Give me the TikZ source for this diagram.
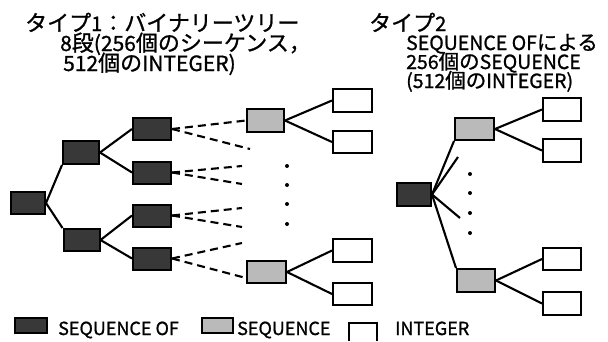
\documentclass[tikz,border=0pt]{standalone}
\usepackage{fontspec}
\newfontfamily\cjk{Noto Sans CJK JP}[FakeBold=1]
\newcommand\jtext[1]{{\fontsize{22}{22}\selectfont #1}}
\newcommand\jsmall[1]{{\fontsize{20.5}{20}\selectfont #1}}
\newcommand\tblock[3]{\parbox[t]{#1}{\raggedright\parindent=0pt\lineskiplimit=-100pt\lineskip=0pt\baselineskip=#2 #3}}
\usetikzlibrary{calc}
\tikzset{
 box/.style={draw, line width=2pt, rectangle, inner sep=0pt, minimum width=38pt, minimum height=22pt},
 dark/.style={box, fill=black!78},
 light/.style={box, fill=black!27},
 int/.style={box, fill=white},
 conn/.style={line width=2.1pt},
 dconn/.style={line width=2.1pt, dash pattern=on 8pt off 5pt},
 txt/.style={anchor=base west, inner sep=0pt, font=\cjk\fontsize{20}{20}\selectfont},
 legtxt/.style={txt, font=\cjk\fontsize{18}{18}\selectfont},
 dotmark/.style={circle, fill=black, inner sep=0pt, minimum size=4pt}
}
\begin{document}
\begin{tikzpicture}[x=1pt,y=-1pt]
\useasboundingbox (0,0) rectangle (608,341);
% ---------- titles
\node[txt] (t1a) at (25,31) {\jtext{タイプ}1\jtext{：バイナリーツリー}};
\node[txt, font=\cjk\fontsize{21}{21}\selectfont] (t1b) at (60,51) {\tblock{260pt}{20pt}{8\jtext{段}(256\jtext{個のシーケンス，}\\
\hspace*{3pt}512\jtext{個の}INTEGER)}};
\node[txt] (t2a) at (369,31) {\jtext{タイプ}2};
\node[txt, font=\cjk\fontsize{19.5}{19.5}\selectfont] (t2b) at (406,50) {\tblock{200pt}{19pt}{SEQUENCE OF\jsmall{による}\\
256\jsmall{個の}SEQUENCE\\
(512\jsmall{個の}INTEGER)}};
% ---------- type 1 tree
\node[dark, minimum width=34pt] (r) at (28,203) {};
\node[dark, minimum width=36pt, minimum height=23pt] (a1) at (81,152.5) {};
\node[dark, minimum width=36pt] (a2) at (81.5,240) {};
\node[dark] (b1) at (152,129) {};
\node[dark] (b2) at (152,172.5) {};
\node[dark] (b3) at (152,215.5) {};
\node[dark] (b4) at (152,258.5) {};
\node[light, minimum width=37pt, minimum height=23pt] (s1) at (265.5,120.5) {};
\node[light, minimum width=39pt] (s2) at (266.5,272) {};
\node[int, minimum width=39pt, minimum height=23pt] (i1) at (352.5,100.5) {};
\node[int, minimum width=39pt] (i2) at (352.5,142) {};
\node[int, minimum width=39pt, minimum height=23pt] (i3) at (352.5,250.5) {};
\node[int, minimum width=39pt] (i4) at (352.5,294) {};
\draw[conn] (r.east) -- (a1.south west);
\draw[conn] (r.east) -- (a2.north west);
\draw[conn] (a1.east) -- (b1.west);
\draw[conn] (a1.east) -- (b2.west);
\draw[conn] (a2.east) -- (b3.west);
\draw[conn] (a2.east) -- (b4.west);
\coordinate (e1) at (250,149);
\coordinate (e2) at (242,166);
\coordinate (e3) at (242,184);
\coordinate (e4) at (242,208);
\coordinate (e5) at (242,227);
\coordinate (e6) at (242,243);
\draw[dconn] (b1.east) -- (s1.west);
\draw[dconn] (b1.east) -- (e1);
\draw[dconn] (b2.east) -- (e2);
\draw[dconn] (b2.east) -- (e3);
\draw[dconn] (b3.east) -- (e4);
\draw[dconn] (b3.east) -- (e5);
\draw[dconn] (b4.east) -- (e6);
\draw[dconn] (b4.east) -- ([yshift=-6pt]s2.west);
\node[dotmark] (d1) at (287,166) {};
\node[dotmark] (d2) at (287,185) {};
\node[dotmark] (d3) at (287,204) {};
\node[dotmark] (d4) at (287,224) {};
\draw[conn] (s1.east) -- (i1.west);
\draw[conn] (s1.east) -- (i2.west);
\draw[conn] (s2.east) -- (i3.west);
\draw[conn] (s2.east) -- (i4.west);
% ---------- type 2 tree
\node[dark, minimum width=34pt, minimum height=23pt] (R) at (414,194.5) {};
\node[light, minimum width=39pt] (T1) at (474.5,129) {};
\node[light, minimum height=23pt] (T2) at (476,280.5) {};
\node[int, minimum height=23pt] (J1) at (562,109.5) {};
\node[int, minimum height=23pt] (J2) at (562,150.5) {};
\node[int] (J3) at (562,259) {};
\node[int, minimum height=23pt] (J4) at (562,303.5) {};
\coordinate (f1) at (458,157);
\coordinate (f2) at (460,218);
\draw[conn] (R.east) -- (T1.south west);
\draw[conn] (R.east) -- (T2.north west);
\draw[conn] (R.east) -- (f1);
\draw[conn] (R.east) -- (f2);
\node[dotmark] (g1) at (470,174) {};
\node[dotmark] (g2) at (470,193) {};
\node[dotmark] (g3) at (470,213) {};
\node[dotmark] (g4) at (470,233) {};
\draw[conn] (T1.east) -- (J1.west);
\draw[conn] (T1.east) -- (J2.west);
\draw[conn] (T2.east) -- (J3.west);
\draw[conn] (T2.east) -- (J4.west);
% ---------- legend
\node[dark, minimum width=32pt, minimum height=15pt] (L1) at (31,325.5) {};
\node[legtxt] (L1t) at (58,335) {SEQUENCE OF};
\node[light, minimum width=31pt, minimum height=15pt] (L2) at (217.5,325.5) {};
\node[legtxt] (L2t) at (237,335) {SEQUENCE};
\coordinate (L3a) at (348.5,341);
\coordinate (L3b) at (348.5,322.5);
\coordinate (L3c) at (376.5,322.5);
\coordinate (L3d) at (376.5,341);
\draw[line width=2pt] (L3a) -- (L3b) -- (L3c) -- (L3d);
\node[legtxt] (L3t) at (395,335) {INTEGER};
\end{tikzpicture}
\end{document}
